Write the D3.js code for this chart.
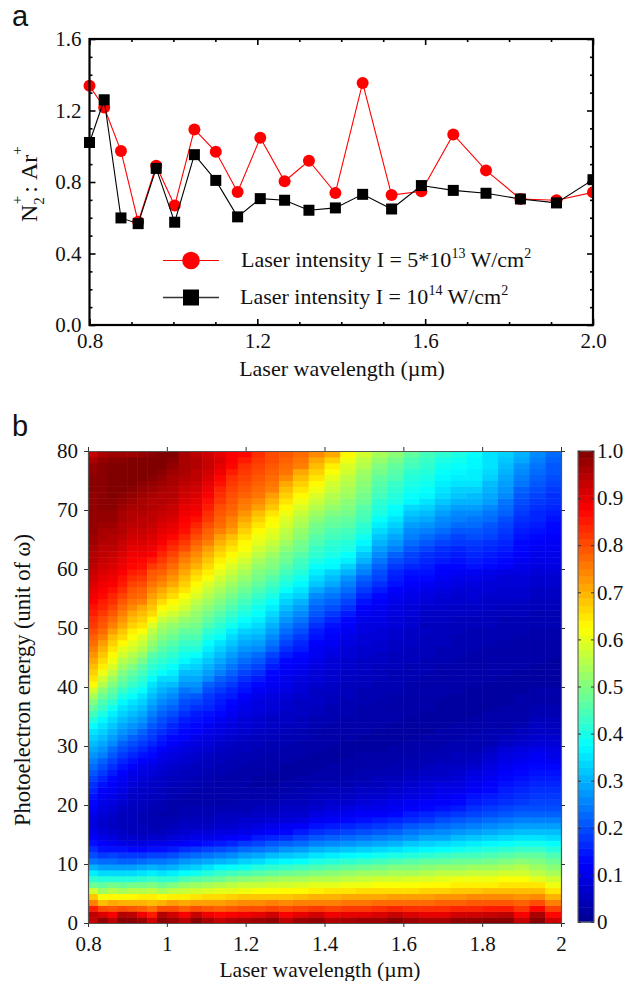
<!DOCTYPE html>
<html>
<head>
<meta charset="utf-8">
<script src="https://cdn.jsdelivr.net/npm/d3@7"></script>
<style>
  html, body { margin: 0; padding: 0; background: #fff; }
  svg { display: block; }
  text { font-family: "Liberation Serif", serif; fill: #111; }
  .panel-letter { font-family: "Liberation Sans", sans-serif; font-size: 29px; }
</style>
</head>
<body>
<svg id="chart" width="628" height="981"></svg>
<script>
// Panel a: ratio against wavelength
const wavelengths = [0.8, 0.835, 0.875, 0.916, 0.959, 1.003, 1.05, 1.101, 1.153, 1.207, 1.265, 1.323, 1.386, 1.451, 1.52, 1.591, 1.667, 1.745, 1.827, 1.913, 2.0];
const ratioLowIntensity = [1.338, 1.217, 0.973, 0.577, 0.891, 0.668, 1.094, 0.969, 0.744, 1.047, 0.804, 0.919, 0.739, 1.354, 0.727, 0.748, 1.066, 0.865, 0.705, 0.698, 0.742];
const ratioHighIntensity = [1.021, 1.26, 0.599, 0.567, 0.876, 0.575, 0.953, 0.809, 0.605, 0.707, 0.698, 0.642, 0.655, 0.731, 0.649, 0.78, 0.753, 0.737, 0.705, 0.683, 0.813];

const ratioMajorTicks = [0, 0.4, 0.8, 1.2, 1.6];
const ratioMinorTicks = [0.1, 0.2, 0.3, 0.5, 0.6, 0.7, 0.9, 1.0, 1.1, 1.3, 1.4, 1.5];
const lambdaMajorTicks = [0.8, 1.2, 1.6, 2.0];
const lambdaMinorTicks = [0.9, 1.0, 1.1, 1.3, 1.4, 1.5, 1.7, 1.8, 1.9];

// Panel b: column edges in um, energy ticks, colour bar ticks
const heatEdges = [0.8, 0.825, 0.85, 0.875, 0.9, 0.925, 0.95, 0.975, 1.0, 1.03, 1.06, 1.09, 1.12, 1.15, 1.18, 1.215, 1.25, 1.285, 1.32, 1.36, 1.4, 1.44, 1.48, 1.52, 1.56, 1.6, 1.64, 1.68, 1.72, 1.76, 1.8, 1.84, 1.88, 1.92, 1.96, 2.0];
const energyTicks = [0, 10, 20, 30, 40, 50, 60, 70, 80];
const heatLambdaTicks = [0.8, 1, 1.2, 1.4, 1.6, 1.8, 2];
const barTicks = [0, 0.1, 0.2, 0.3, 0.4, 0.5, 0.6, 0.7, 0.8, 0.9, 1.0];

// One list per column, one value per unit of energy from 0 to 79, in percent
const heatColumns = [
  [93,94,85,75,68,58,48,42,36,30, 24,20,17,14,12,10,9,9,10,12, 13,14,16,17,19,21,23,25,27,29, 31,33,35,38,41,44,47,50,54,58, 63,65,67,69,71,73,75,77,78,80, 82,83,85,86,88,89,90,91,92,93, 94,95,95,96,97,97,98,98,98,98, 98,98,98,99,99,99,98,98,96,93],
  [98,91,80,69,62,53,47,41,34,28, 23,18,14,12,10,8,7,7,8,9, 10,11,12,14,16,18,20,22,25,27, 29,31,33,35,37,40,43,45,48,51, 55,58,61,64,66,68,70,72,75,77, 79,80,82,84,85,87,88,89,90,91, 92,93,94,94,95,96,96,97,98,98, 99,99,99,99,99,99,99,99,98,96],
  [94,88,79,71,63,55,49,41,34,28, 23,19,14,11,9,7,6,6,7,8, 9,10,11,12,13,15,17,19,21,23, 26,28,30,32,34,36,39,42,45,47, 50,53,56,59,61,63,65,67,69,72, 75,77,79,81,83,84,86,88,89,90, 91,92,93,94,95,95,96,97,98,98, 99,99,100,100,100,100,100,100,99,97],
  [99,95,80,70,63,54,48,41,34,28, 22,18,14,10,7,6,5,5,5,6, 7,8,9,10,11,12,14,16,18,20, 22,25,27,29,31,33,35,37,40,43, 46,48,50,53,55,58,60,63,66,68, 71,73,75,77,79,81,83,85,86,88, 89,90,91,92,93,94,95,95,96,96, 97,98,99,100,100,100,100,100,99,97],
  [99,94,79,70,63,55,49,41,34,28, 22,18,13,9,7,5,5,5,5,5, 6,6,7,8,9,10,12,14,16,18, 20,22,25,27,29,31,33,35,38,40, 43,45,47,50,53,55,58,60,62,64, 67,69,71,74,76,78,79,81,83,85, 87,88,89,90,91,92,93,94,95,95, 96,97,98,99,100,100,100,100,100,97],
  [97,89,78,70,64,55,49,42,35,29, 23,18,13,9,6,5,5,4,4,5, 5,6,6,7,8,9,10,12,14,16, 18,20,22,25,27,29,31,33,35,38, 40,42,44,46,49,52,55,57,59,62, 65,67,69,71,75,77,78,80,82,84, 86,87,89,90,91,92,93,94,94,95, 96,96,97,98,99,100,100,100,100,98],
  [92,85,76,69,64,56,50,43,36,30, 24,19,14,10,7,5,4,4,4,4, 5,5,6,6,7,8,9,11,13,14, 16,18,19,21,23,25,27,29,31,33, 35,38,40,42,44,46,50,52,54,56, 59,63,66,68,70,72,74,76,78,79, 82,85,88,89,90,91,92,93,94,94, 95,95,96,97,98,99,100,100,100,99],
  [99,95,80,70,63,54,48,42,35,29, 24,19,14,10,7,5,4,4,3,4, 4,5,5,6,6,7,8,9,10,12, 14,15,17,19,20,22,24,26,28,30, 32,34,38,40,42,44,46,48,50,52, 54,57,60,63,66,69,71,74,76,78, 80,82,84,86,88,89,90,91,92,93, 94,95,95,96,97,98,99,100,100,100],
  [97,92,80,72,64,56,50,42,36,30, 25,20,15,11,8,6,5,4,3,3, 3,4,4,5,5,6,7,8,9,10, 12,13,15,16,18,20,22,24,26,28, 31,34,36,38,40,42,44,46,48,50, 52,55,58,61,63,66,68,71,73,75, 77,79,81,83,85,87,89,90,91,92, 93,94,95,95,96,96,97,98,99,100],
  [94,88,78,71,64,57,52,45,38,32, 27,22,17,12,9,7,6,5,4,4, 3,3,4,4,5,5,6,7,8,9, 10,12,13,14,15,17,19,20,22,24, 27,29,31,34,37,39,41,43,45,47, 50,52,55,58,60,62,65,67,69,71, 73,75,77,80,82,84,86,87,88,89, 90,91,92,93,94,95,96,96,96,96],
  [99,93,80,72,65,58,53,46,39,33, 28,23,18,13,10,8,6,5,4,4, 3,3,3,4,4,5,5,6,7,8, 9,10,12,13,14,15,17,19,21,25, 27,29,31,33,35,38,41,43,45,47, 49,51,52,54,56,59,61,63,65,67, 70,72,74,76,78,80,82,84,86,88, 89,90,91,92,93,94,94,95,95,94],
  [96,89,79,72,66,59,54,47,41,35, 29,24,19,14,10,8,6,5,4,4, 3,3,3,3,4,4,5,5,6,7, 8,9,10,11,13,14,16,17,18,20, 22,26,28,30,32,34,36,38,40,42, 45,47,49,51,53,55,57,59,62,64, 66,68,70,72,75,77,78,80,82,83, 85,86,88,89,90,91,92,93,93,92],
  [93,87,78,72,66,60,55,48,43,37, 30,25,20,15,11,9,7,6,5,4, 3,3,3,3,3,4,4,5,5,6, 7,8,9,10,11,13,14,15,16,18, 20,22,25,27,29,31,33,35,38,40, 42,44,46,48,50,52,54,56,58,60, 62,64,66,68,70,72,75,77,78,79, 80,82,83,84,86,87,89,90,91,90],
  [95,88,79,73,67,60,56,50,44,38, 31,26,21,16,12,9,7,6,5,4, 3,3,3,3,3,3,4,4,5,5, 6,7,8,9,10,11,12,13,15,16, 18,20,22,24,26,28,30,32,34,36, 39,41,43,45,47,49,51,53,55,57, 59,61,63,65,67,69,72,74,75,77, 78,79,80,81,82,83,85,87,88,88],
  [96,89,80,74,68,61,57,51,45,39, 33,28,23,18,13,10,8,7,5,4, 4,3,3,3,3,3,3,4,4,5, 5,6,7,8,8,9,10,11,12,14, 15,17,19,21,23,25,27,29,31,33, 36,38,40,42,44,46,48,50,52,54, 56,58,60,62,63,65,67,69,71,73, 75,76,78,79,80,81,82,83,85,87],
  [97,90,80,74,68,62,57,52,46,41, 34,29,24,19,15,11,9,7,6,5, 4,3,3,2,2,3,3,3,4,4, 5,5,6,7,7,8,9,9,10,11, 13,15,17,19,21,23,26,28,30,32, 34,36,38,39,41,43,45,47,49,50, 52,54,56,58,60,61,63,65,67,69, 72,74,76,77,78,79,80,81,82,83],
  [98,92,81,75,68,62,58,53,47,42, 36,31,25,21,16,12,10,8,6,5, 4,3,3,2,2,2,3,3,3,4, 4,5,5,6,6,7,8,8,9,10, 11,12,13,15,17,19,22,24,26,28, 30,32,34,36,38,40,42,44,46,48, 50,51,53,55,57,59,60,62,63,65, 68,70,72,75,76,77,78,79,80,80],
  [94,88,80,74,68,63,58,54,48,43, 37,32,27,22,17,13,11,8,7,6, 5,4,3,3,2,2,2,3,3,3, 4,4,5,5,6,6,7,7,8,9, 10,10,11,12,13,15,17,19,21,23, 25,27,29,31,33,35,38,40,42,44, 46,48,49,51,53,55,56,58,59,61, 63,65,67,69,71,74,76,77,78,79],
  [97,90,81,75,69,63,59,54,49,44, 38,33,28,23,19,15,12,9,7,6, 5,4,4,3,3,2,2,2,3,3, 3,4,4,5,5,6,6,6,7,8, 8,9,10,11,12,13,15,16,18,20, 22,24,26,28,30,33,35,37,39,41, 43,44,46,48,49,51,52,54,55,57, 59,61,63,65,67,69,71,75,76,77],
  [98,92,82,75,70,64,60,55,50,45, 40,35,30,25,21,17,14,11,9,7, 6,5,4,4,3,3,2,2,2,3, 3,3,3,4,4,5,5,6,6,6, 7,8,8,9,10,11,11,12,14,15, 17,19,21,22,24,26,29,32,34,36, 38,40,42,43,45,46,48,49,51,53, 55,57,59,61,63,65,67,69,71,74],
  [95,89,81,75,70,65,60,55,51,46, 41,36,31,26,22,18,15,12,10,8, 7,5,5,4,3,3,3,2,2,2, 3,3,3,3,4,4,4,5,5,6, 6,7,7,8,8,9,10,11,12,13, 14,16,18,20,22,24,26,29,31,33, 37,38,40,41,42,44,45,47,48,50, 52,54,55,57,58,60,62,64,67,71],
  [96,90,82,76,71,65,61,56,52,47, 42,37,32,27,23,19,16,13,11,9, 7,6,5,4,4,3,3,3,2,2, 2,3,3,3,3,4,4,4,5,5, 5,6,6,7,7,8,8,9,10,11, 12,13,15,17,19,21,23,25,27,30, 33,36,38,40,41,43,44,46,47,49, 50,51,53,54,55,56,58,59,61,63],
  [97,90,82,76,71,66,61,57,53,48, 43,38,33,28,24,20,17,14,12,10, 8,7,6,5,4,4,3,3,3,2, 2,2,3,3,3,3,3,4,4,4, 5,5,6,6,6,7,7,8,8,9, 9,10,11,12,14,16,18,20,22,25, 27,30,32,35,37,39,41,42,44,45, 46,48,49,50,51,52,53,55,56,58],
  [97,91,83,77,71,66,62,58,53,49, 44,39,34,29,25,21,18,15,12,10, 9,7,6,5,5,4,3,3,3,2, 2,2,2,3,3,3,3,3,4,4, 4,5,5,5,6,6,7,7,8,8, 9,10,10,11,12,13,15,17,19,20, 22,24,26,28,30,32,34,36,38,40, 41,42,44,45,46,47,49,50,52,54],
  [99,93,84,77,72,66,62,58,54,50, 45,40,35,30,26,22,19,16,13,11, 10,8,7,6,5,4,4,3,3,3, 2,2,2,2,3,3,3,3,3,4, 4,4,4,5,5,5,6,6,7,7, 8,8,9,9,10,11,12,14,15,16, 18,20,22,25,27,29,31,33,35,37, 38,40,41,42,43,45,46,47,49,51],
  [97,91,83,77,72,66,62,59,54,50, 46,41,36,32,27,24,21,17,15,12, 11,9,8,7,6,5,4,4,3,3, 3,2,2,2,2,3,3,3,3,3, 3,4,4,4,5,5,5,6,6,6, 7,7,8,8,9,10,11,12,13,14, 16,18,19,21,23,25,26,28,30,32, 34,37,38,39,40,41,42,44,45,47],
  [96,90,83,77,72,67,63,59,55,51, 47,42,37,33,29,25,22,18,16,13, 12,10,9,8,7,6,5,4,4,3, 3,3,2,2,2,2,3,3,3,3, 3,3,4,4,4,5,5,5,5,6, 5,6,6,7,8,9,10,11,13,14, 15,16,17,19,21,23,25,27,29,31, 33,35,37,38,39,40,41,42,43,44],
  [96,90,83,78,73,67,63,60,56,52, 47,43,38,34,29,26,23,20,17,14, 12,11,10,9,7,6,6,5,4,4, 3,3,3,2,2,2,2,2,3,3, 3,3,3,3,4,4,4,5,5,5, 5,6,6,7,7,8,9,10,11,12, 13,15,16,17,19,21,23,25,26,28, 30,32,34,35,36,37,38,39,40,42],
  [98,92,84,78,73,68,64,61,56,52, 48,44,39,35,31,27,24,21,18,15, 13,12,10,9,8,7,6,5,5,4, 4,3,3,3,2,2,2,2,2,3, 3,3,3,3,3,4,4,4,4,5, 5,5,6,6,7,7,8,9,10,11, 13,14,15,16,18,19,21,23,25,26, 28,30,32,33,35,36,37,38,39,40],
  [98,92,84,79,74,68,64,61,57,53, 48,44,40,36,32,28,25,22,19,17, 15,14,12,11,10,9,7,6,5,4, 4,4,3,3,3,2,2,2,2,2, 3,3,3,3,3,3,4,4,4,4, 5,5,6,6,7,8,8,9,10,11, 14,15,16,17,18,20,21,23,24,26, 28,30,31,33,35,36,36,37,37,38],
  [99,93,85,79,74,69,64,61,57,53, 49,45,41,37,33,29,26,23,20,18, 16,15,13,12,11,10,9,8,7,6, 4,4,4,3,3,3,2,2,2,2, 2,3,3,3,3,3,3,4,4,4, 5,5,5,6,6,7,8,8,9,10, 13,14,15,16,17,19,20,21,23,24, 26,28,29,30,31,33,34,35,35,35],
  [99,94,85,79,74,69,65,62,58,54, 50,46,42,38,34,30,27,24,21,19, 17,16,15,14,13,12,11,10,9,8, 6,5,4,3,3,3,3,2,2,2, 2,2,3,3,3,3,3,3,4,4, 4,4,5,5,6,7,7,8,8,9, 12,13,14,15,16,17,18,19,20,22, 23,24,26,27,28,29,30,31,32,33],
  [93,88,82,78,73,69,65,62,58,55, 51,47,43,39,35,31,28,25,22,20, 18,17,16,15,14,13,12,11,10,9, 7,6,5,4,3,3,3,3,3,2, 2,2,2,3,3,3,3,3,3,4, 4,4,5,5,6,7,7,8,8,9, 10,11,12,13,13,14,15,16,17,18, 19,20,21,22,24,25,26,27,29,30],
  [99,96,87,80,74,69,65,60,56,53, 50,47,43,39,35,31,28,25,22,20, 19,18,17,16,15,14,13,12,11,10, 8,7,6,6,5,4,4,3,3,3, 2,2,2,2,3,3,3,3,3,3, 4,4,4,5,5,6,6,7,7,8, 9,10,10,11,12,13,14,15,16,16, 17,18,19,20,21,22,23,24,25,26],
  [92,87,81,75,70,65,61,58,54,51, 48,45,41,38,34,31,28,25,22,20, 19,18,17,16,15,14,13,11,10,9, 8,7,6,5,5,4,4,3,3,3, 2,2,2,2,2,3,3,3,3,3, 4,4,4,5,5,6,6,7,7,8, 9,10,10,11,11,12,13,13,14,15, 16,17,17,18,19,20,21,21,22,23]
];

const svg = d3.select('#chart');
const fmt1 = d3.format('.1f');

svg.append('text').attr('class', 'panel-letter').attr('x', 12).attr('y', 26).text('a');
svg.append('text').attr('class', 'panel-letter').attr('x', 12).attr('y', 436).text('b');

// ---- Panel a ----
const xA = d3.scaleLinear().domain([0.8, 2.0]).range([89.5, 593]);
const yA = d3.scaleLinear().domain([0, 1.6]).range([325, 39]);

function insideTicks(g, axisFn, scale, major, minor, labelled, padding) {
  const a = g.append('g');
  a.call(axisFn(scale).tickValues(major).tickSize(-6).tickPadding(padding).tickFormat(labelled ? fmt1 : ''));
  a.call(s => s.select('.domain').remove());
  a.selectAll('text').attr('font-size', 21).attr('font-family', '"Liberation Serif", serif');
  const b = g.append('g');
  b.call(axisFn(scale).tickValues(minor).tickSize(-3).tickFormat(''));
  b.call(s => s.select('.domain').remove());
  g.selectAll('line').attr('stroke', '#000').attr('stroke-width', 1.6);
}

const plotA = svg.append('g');
insideTicks(plotA.append('g').attr('transform', 'translate(0,325)'), d3.axisBottom, xA, lambdaMajorTicks, lambdaMinorTicks, true, 8);
insideTicks(plotA.append('g').attr('transform', 'translate(0,39)'), d3.axisTop, xA, lambdaMajorTicks, lambdaMinorTicks, false, 0);
insideTicks(plotA.append('g').attr('transform', 'translate(89.5,0)'), d3.axisLeft, yA, ratioMajorTicks, ratioMinorTicks, true, 8);
insideTicks(plotA.append('g').attr('transform', 'translate(593,0)'), d3.axisRight, yA, ratioMajorTicks, ratioMinorTicks, false, 0);

svg.append('clipPath').attr('id', 'clip-a').append('rect')
  .attr('x', 80).attr('y', 39).attr('width', 513).attr('height', 286);

const lineA = values => d3.line().x((d, i) => xA(wavelengths[i])).y(d => yA(d))(values);
const marksA = svg.append('g').attr('clip-path', 'url(#clip-a)');

marksA.append('path').attr('d', lineA(ratioLowIntensity))
  .attr('fill', 'none').attr('stroke', '#ff0000').attr('stroke-width', 1.1);
marksA.selectAll('circle').data(ratioLowIntensity).join('circle')
  .attr('cx', (d, i) => xA(wavelengths[i])).attr('cy', d => yA(d)).attr('r', 6).attr('fill', '#ff0000');

marksA.append('path').attr('d', lineA(ratioHighIntensity))
  .attr('fill', 'none').attr('stroke', '#000').attr('stroke-width', 1.1);
marksA.selectAll('rect').data(ratioHighIntensity).join('rect')
  .attr('x', (d, i) => xA(wavelengths[i]) - 5.5).attr('y', d => yA(d) - 5.5)
  .attr('width', 11).attr('height', 11).attr('fill', '#000');

svg.append('rect').attr('x', 89.5).attr('y', 39).attr('width', 503.5).attr('height', 286)
  .attr('fill', 'none').attr('stroke', '#000').attr('stroke-width', 2.2);

// Legend
function legendText(x, y, parts) {
  const t = svg.append('text').attr('x', x).attr('y', y).attr('font-size', 22);
  parts.forEach(p => {
    t.append('tspan').attr('dy', p.sup ? -9 : (p.after ? 9 : 0))
      .attr('font-size', p.sup ? 14 : 22).text(p.text);
  });
}
svg.append('line').attr('x1', 163).attr('x2', 219).attr('y1', 260.5).attr('y2', 260.5).attr('stroke', '#ff0000').attr('stroke-width', 1.1);
svg.append('circle').attr('cx', 191).attr('cy', 260.5).attr('r', 8.8).attr('fill', '#ff0000');
legendText(241, 267, [{ text: 'Laser intensity I = 5*10' }, { text: '13', sup: true }, { text: ' W/cm', after: true }, { text: '2', sup: true }]);

svg.append('line').attr('x1', 163).attr('x2', 219).attr('y1', 297.5).attr('y2', 297.5).attr('stroke', '#333').attr('stroke-width', 1.3);
svg.append('rect').attr('x', 183).attr('y', 289.5).attr('width', 16).attr('height', 16).attr('fill', '#000');
legendText(240, 304, [{ text: 'Laser intensity I = 10' }, { text: '14', sup: true }, { text: ' W/cm', after: true }, { text: '2', sup: true }]);

svg.append('text').attr('x', 342).attr('y', 376).attr('text-anchor', 'middle').attr('font-size', 22)
  .text('Laser wavelength (\u00b5m)');

const ratioLabel = svg.append('text').attr('transform', 'translate(37,222) rotate(-90)').attr('font-size', 24);
ratioLabel.append('tspan').text('N');
ratioLabel.append('tspan').attr('font-size', 15).attr('dy', 7).text('2');
ratioLabel.append('tspan').attr('font-size', 15).attr('dx', -7).attr('dy', -22).text('+');
ratioLabel.append('tspan').attr('dy', 15).attr('dx', 3).text(':');
ratioLabel.append('tspan').attr('dx', 6).text('Ar');
ratioLabel.append('tspan').attr('font-size', 15).attr('dy', -15).text('+');

// ---- Panel b ----
const xB = d3.scaleLinear().domain([0.8, 2]).range([88, 561]);
const yB = d3.scaleLinear().domain([0, 80]).range([923, 451]);
const jet = d3.scaleLinear()
  .domain([0, 0.125, 0.375, 0.625, 0.875, 1])
  .range(['#00008f', '#0000ff', '#00ffff', '#ffff00', '#ff0000', '#800000'])
  .clamp(true);

svg.append('clipPath').attr('id', 'clip-b').append('rect')
  .attr('x', 88).attr('y', 451).attr('width', 473).attr('height', 472);

const heatCells = heatColumns.flatMap((col, c) => col.map((v, r) => ({ c, r, v: v / 100 })));
svg.append('g').attr('clip-path', 'url(#clip-b)')
  .append('g').style('filter', 'blur(0.7px)')
  .selectAll('rect').data(heatCells).join('rect')
  .attr('x', d => xB(heatEdges[d.c]))
  .attr('y', d => yB(d.r + 1))
  .attr('width', d => xB(heatEdges[d.c + 1]) - xB(heatEdges[d.c]) + 0.5)
  .attr('height', d => yB(d.r) - yB(d.r + 1) + 0.5)
  .attr('fill', d => jet(d.v));

function frameAxis(g) {
  g.selectAll('line').attr('stroke', '#333').attr('stroke-width', 1);
  g.select('.domain').attr('stroke', '#555').attr('stroke-width', 1.2);
  g.selectAll('text').attr('font-size', 21).attr('font-family', '"Liberation Serif", serif');
}
const lambdaFormat = d => (d === 1 || d === 2) ? String(d) : fmt1(d);
svg.append('g').attr('transform', 'translate(0,923)')
  .call(d3.axisBottom(xB).tickValues(heatLambdaTicks).tickSizeInner(4).tickSizeOuter(0).tickPadding(9).tickFormat(lambdaFormat)).call(frameAxis);
svg.append('g').attr('transform', 'translate(0,451)')
  .call(d3.axisTop(xB).tickValues(heatLambdaTicks).tickSizeInner(4).tickSizeOuter(0).tickFormat('')).call(frameAxis);
svg.append('g').attr('transform', 'translate(88,0)')
  .call(d3.axisLeft(yB).tickValues(energyTicks).tickSizeInner(4).tickSizeOuter(0).tickPadding(6)).call(frameAxis);
svg.append('g').attr('transform', 'translate(561,0)')
  .call(d3.axisRight(yB).tickValues(energyTicks).tickSizeInner(4).tickSizeOuter(0).tickFormat('')).call(frameAxis);

svg.append('text').attr('x', 320).attr('y', 977).attr('text-anchor', 'middle').attr('font-size', 21.5)
  .text('Laser wavelength (\u00b5m)');
svg.append('text').attr('transform', 'translate(30,680) rotate(-90)').attr('text-anchor', 'middle').attr('font-size', 22.5)
  .text('Photoelectron energy (unit of \u03c9)');

// Colour bar
const yBar = d3.scaleLinear().domain([0, 1]).range([922, 451]);
const barStops = d3.range(0, 1, 1 / 64);
svg.append('g').selectAll('rect').data(barStops).join('rect')
  .attr('x', 578).attr('width', 16)
  .attr('y', d => yBar(d + 1 / 64))
  .attr('height', d => yBar(d) - yBar(d + 1 / 64) + 0.5)
  .attr('fill', d => jet(d + 1 / 128));
svg.append('rect').attr('x', 578).attr('y', 451).attr('width', 16).attr('height', 471)
  .attr('fill', 'none').attr('stroke', '#666').attr('stroke-width', 1.2);

const barAxis = svg.append('g').attr('transform', 'translate(594,0)')
  .call(d3.axisRight(yBar).tickValues(barTicks).tickSize(-3).tickPadding(3)
    .tickFormat(d => d === 0 ? '0' : fmt1(d)));
barAxis.select('.domain').remove();
barAxis.selectAll('line').attr('stroke', '#333');
barAxis.selectAll('text').attr('font-size', 21).attr('font-family', '"Liberation Serif", serif');
svg.append('g').attr('transform', 'translate(578,0)')
  .call(d3.axisLeft(yBar).tickValues(barTicks).tickSize(-3).tickFormat(''))
  .call(g => g.select('.domain').remove())
  .selectAll('line').attr('stroke', '#333');
</script>
</body>
</html>
